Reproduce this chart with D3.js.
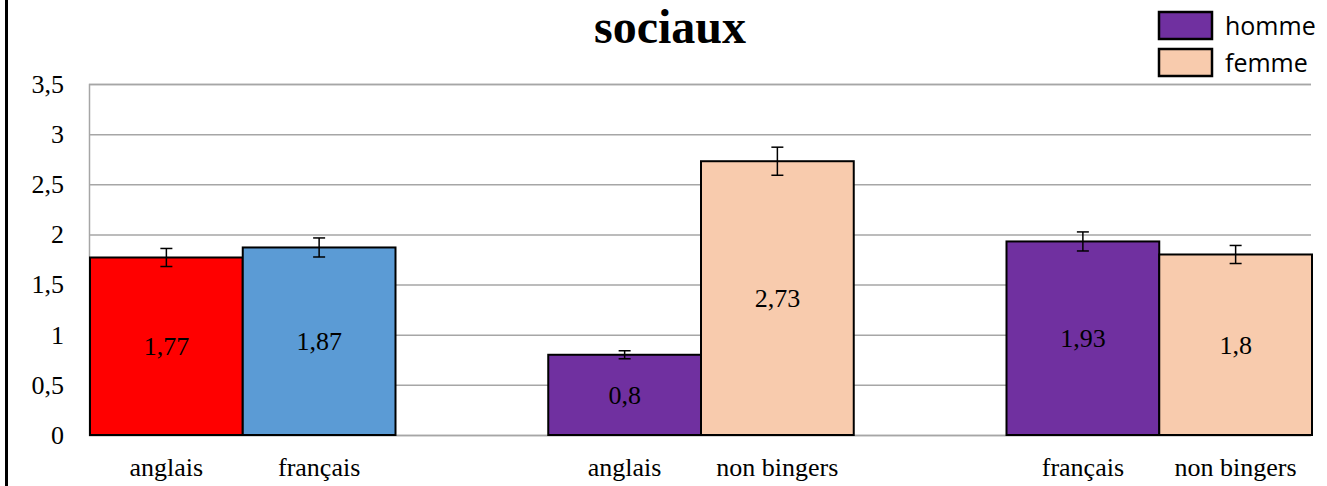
<!DOCTYPE html>
<html>
<head>
<meta charset="utf-8">
<script src="https://cdn.jsdelivr.net/npm/d3@7"></script>
<style>
  body { margin: 0; background: #fff; }
</style>
</head>
<body>
<script>
// data
const labels = ["anglais", "français", "anglais", "non bingers", "français", "non bingers"];
const groupOf = [0, 0, 1, 1, 2, 2];
const values = [1.77, 1.87, 0.8, 2.73, 1.93, 1.8];
const errors = [0.09, 0.095, 0.04, 0.14, 0.095, 0.09];
const barColors = ["#ff0000", "#5b9bd5", "#7030a0", "#f8cbad", "#7030a0", "#f8cbad"];
const yTicks = [0, 0.5, 1, 1.5, 2, 2.5, 3, 3.5];
const legendNames = ["homme", "femme"];
const legendColors = ["#7030a0", "#f8cbad"];

const W = 1327, H = 486;
const plotLeft = 90, plotRight = 1312, plotTop = 84, plotBottom = 435;
const serif = "'Liberation Serif', 'Times New Roman', serif";

let svg = d3.select("body").append("svg")
  .attr("width", W)
  .attr("height", H);

// thick frame line on the left edge
svg.append("line")
  .attr("x1", 6.5).attr("x2", 6.5)
  .attr("y1", 0).attr("y2", H)
  .attr("stroke", "#000").attr("stroke-width", 3);

let y = d3.scaleLinear().domain([0, 3.5]).range([plotBottom, plotTop]);

let xGroup = d3.scaleBand()
  .domain([0, 1, 2])
  .range([plotLeft, plotRight])
  .paddingInner(1 / 3)
  .paddingOuter(0);

let xInner = d3.scaleBand()
  .domain([0, 1])
  .range([0, xGroup.bandwidth()]);

let fmt = (v) => String(v).replace(".", ",");

// grid lines + y axis
let yAxis = d3.axisLeft(y)
  .tickValues(yTicks)
  .tickSize(-(plotRight - plotLeft))
  .tickPadding(25)
  .tickFormat(fmt);

let gy = svg.append("g")
  .attr("transform", `translate(${plotLeft - 1},0)`)
  .call(yAxis);
gy.select(".domain").attr("stroke", "#a6a6a6").attr("stroke-width", 1.5);
gy.selectAll(".tick line").attr("stroke", "#a6a6a6").attr("stroke-width", 1.5);
gy.selectAll(".tick text")
  .attr("font-family", serif)
  .attr("font-size", "26px")
  .attr("fill", "#000");

let bars = labels.map((l, i) => ({
  label: l,
  value: values[i],
  err: errors[i],
  color: barColors[i],
  x: xGroup(groupOf[i]) + xInner(i % 2)
}));

svg.selectAll("rect.bar")
  .data(bars)
  .enter()
  .append("rect")
  .attr("class", "bar")
  .attr("x", (d) => d.x)
  .attr("y", (d) => y(d.value))
  .attr("width", xInner.bandwidth())
  .attr("height", (d) => y(0) - y(d.value))
  .attr("fill", (d) => d.color)
  .attr("stroke", "#000")
  .attr("stroke-width", 2);

// error bars
let eb = svg.selectAll("g.err")
  .data(bars)
  .enter()
  .append("g")
  .attr("class", "err")
  .attr("stroke", "#000")
  .attr("stroke-width", 1.5);

let cx = (d) => d.x + xInner.bandwidth() / 2;
eb.append("line")
  .attr("x1", cx).attr("x2", cx)
  .attr("y1", (d) => y(d.value + d.err))
  .attr("y2", (d) => y(d.value - d.err));
eb.append("line")
  .attr("x1", (d) => cx(d) - 6).attr("x2", (d) => cx(d) + 6)
  .attr("y1", (d) => y(d.value + d.err))
  .attr("y2", (d) => y(d.value + d.err));
eb.append("line")
  .attr("x1", (d) => cx(d) - 6).attr("x2", (d) => cx(d) + 6)
  .attr("y1", (d) => y(d.value - d.err))
  .attr("y2", (d) => y(d.value - d.err));

// value labels, centred in the bar
svg.selectAll("text.val")
  .data(bars)
  .enter()
  .append("text")
  .attr("class", "val")
  .attr("x", cx)
  .attr("y", (d) => y(d.value / 2))
  .attr("dy", "0.35em")
  .attr("text-anchor", "middle")
  .attr("font-family", serif)
  .attr("font-size", "26px")
  .text((d) => fmt(d.value));

// category labels
svg.selectAll("text.cat")
  .data(bars)
  .enter()
  .append("text")
  .attr("class", "cat")
  .attr("x", cx)
  .attr("y", 476)
  .attr("text-anchor", "middle")
  .attr("font-family", serif)
  .attr("font-size", "26px")
  .text((d) => d.label);

// title
svg.append("text")
  .attr("x", 670)
  .attr("y", 43)
  .attr("text-anchor", "middle")
  .attr("font-family", serif)
  .attr("font-weight", "bold")
  .attr("font-size", "48px")
  .text("sociaux");

// legend
let lg = svg.selectAll("g.legend")
  .data(legendNames)
  .enter()
  .append("g")
  .attr("class", "legend")
  .attr("transform", (d, i) => `translate(1159,${12 + i * 37})`);

lg.append("rect")
  .attr("width", 53)
  .attr("height", 27)
  .attr("fill", (d, i) => legendColors[i])
  .attr("stroke", "#000")
  .attr("stroke-width", 2.5);

lg.append("text")
  .attr("x", 66)
  .attr("y", 14)
  .attr("dy", "0.35em")
  .attr("font-family", "'Open Sans', sans-serif")
  .attr("font-size", "25px")
  .text((d) => d);
</script>
</body>
</html>
